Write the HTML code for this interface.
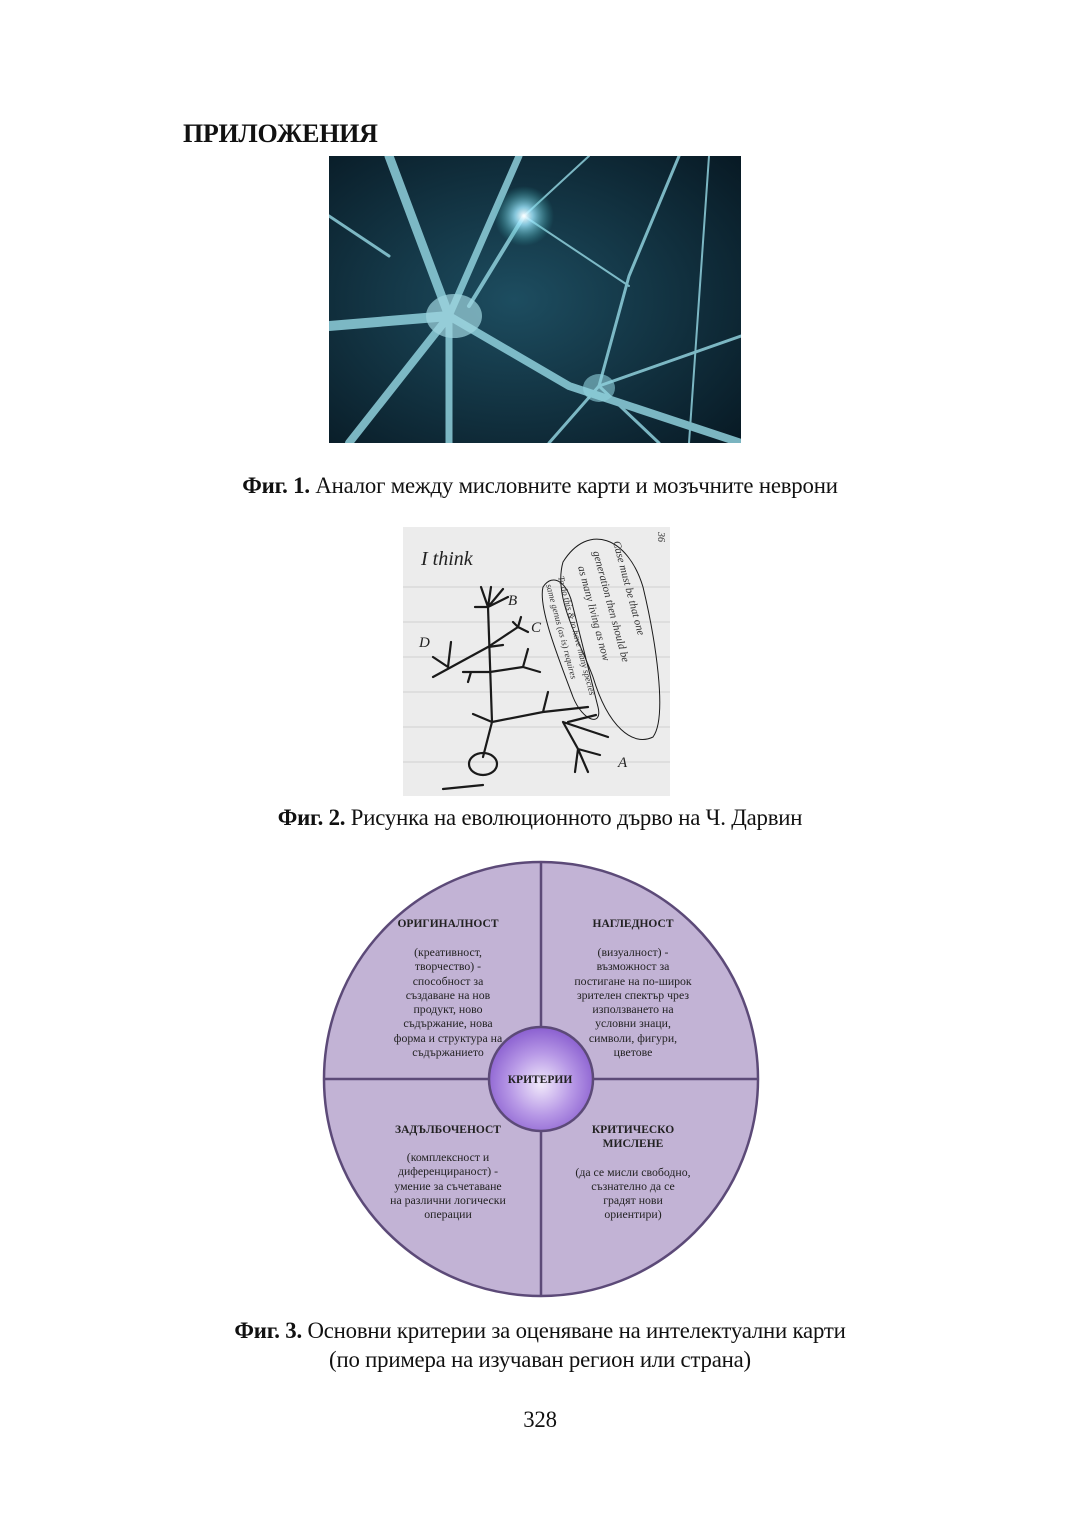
<!DOCTYPE html>
<html><head><meta charset="utf-8"><style>
body{margin:0;background:#fff;}
.page{position:relative;width:1080px;height:1536px;overflow:hidden;font-family:"Liberation Serif",serif;color:#111;}
.t{position:absolute;white-space:nowrap;}
.cap{position:absolute;left:0;width:1080px;text-align:center;font-size:22.8px;white-space:nowrap;letter-spacing:-0.2px;}
</style></head><body><div class="page">
<div class="t" style="left:183px;top:119px;font-size:26px;font-weight:bold;letter-spacing:-0.3px;">ПРИЛОЖЕНИЯ</div>

<svg style="position:absolute;left:329px;top:156px" width="412" height="287" viewBox="0 0 412 287">
<defs>
<radialGradient id="bg" cx="0.45" cy="0.5" r="0.8"><stop offset="0" stop-color="#1d4d60"/><stop offset="1" stop-color="#06151f"/></radialGradient>
<radialGradient id="gl" cx="0.5" cy="0.5" r="0.5"><stop offset="0" stop-color="#ffffff"/><stop offset="0.3" stop-color="#9fe8ff" stop-opacity="0.8"/><stop offset="1" stop-color="#3aa" stop-opacity="0"/></radialGradient>
</defs>
<rect width="412" height="287" fill="url(#bg)"/>
<g stroke="#8fd0dc" fill="none" stroke-linecap="round" opacity="0.85">
<path d="M120 160 L60 0" stroke-width="9"/>
<path d="M120 160 L0 170" stroke-width="10"/>
<path d="M120 160 L20 287" stroke-width="8"/>
<path d="M120 160 L120 287" stroke-width="7"/>
<path d="M120 160 L240 230 L412 287" stroke-width="8"/>
<path d="M120 160 L190 0" stroke-width="7"/>
<path d="M140 150 L195 60" stroke-width="4"/>
<path d="M270 230 L300 120 L350 0" stroke-width="3"/>
<path d="M270 230 L412 180" stroke-width="3"/>
<path d="M270 230 L330 287" stroke-width="3"/>
<path d="M270 230 L220 287" stroke-width="3"/>
<path d="M195 60 L260 0" stroke-width="2"/>
<path d="M195 60 L300 130" stroke-width="2"/>
<path d="M380 0 L360 287" stroke-width="2"/>
<path d="M0 60 L60 100" stroke-width="3"/>
</g>
<ellipse cx="125" cy="160" rx="28" ry="22" fill="#9fd6e0" opacity="0.7"/>
<ellipse cx="270" cy="232" rx="16" ry="14" fill="#8fd0dc" opacity="0.6"/>
<circle cx="195" cy="60" r="30" fill="url(#gl)"/>
</svg>
<div class="cap" style="top:473px;"><b>Фиг. 1.</b> Аналог между мисловните карти и мозъчните неврони</div>

<svg style="position:absolute;left:403px;top:527px" width="267" height="269" viewBox="0 0 267 269">
<rect width="267" height="269" fill="#ececec"/>
<g stroke="#d0d0d0" stroke-width="1"><path d="M0 60 H267 M0 95 H267 M0 130 H267 M0 165 H267 M0 200 H267 M0 235 H267"/></g>
<g stroke="#1a1a1a" fill="none" stroke-width="2.2" stroke-linecap="round">
<text x="18" y="38" font-family="Liberation Serif" font-style="italic" font-size="20" fill="#222" stroke="none">I think</text>
<path d="M89 195 L85 80 M85 80 L72 80 M85 80 L78 60 M85 80 L88 60 M85 80 L100 62 M85 80 L105 70"/>
<path d="M85 120 L30 150 M45 140 L48 115 M45 140 L30 130 M85 120 L100 118 M85 120 L115 100 M115 100 L110 95 M115 100 L118 90 M115 100 L125 105"/>
<path d="M87 145 L120 140 L125 122 M120 140 L137 145 M87 145 L60 145 M68 145 L65 155"/>
<path d="M89 195 L70 187 M89 195 L140 185 L185 180 M140 185 L145 165 M160 195 L175 222 L172 245 M175 222 L185 245 M175 222 L197 228 M160 195 L205 210 M165 195 L193 188"/>
<path d="M89 195 L80 230"/>
<ellipse cx="80" cy="237" rx="14" ry="11"/>
<path d="M40 262 L80 258"/>
<path d="M160 35 C185 -5 225 10 240 60 C252 110 265 190 250 210 C230 220 205 200 190 150 C175 110 150 70 160 35 Z" stroke-width="1"/>
<path d="M140 60 C150 45 165 55 170 80 L195 180 C200 200 180 195 170 170 C155 130 135 80 140 60 Z" stroke-width="1"/>
</g>
<g font-family="Liberation Serif" font-style="italic" fill="#222" font-size="15">
<text x="105" y="78">B</text><text x="128" y="105">C</text><text x="16" y="120">D</text><text x="215" y="240">A</text>
</g>
<g font-family="Liberation Serif" font-style="italic" fill="#333" font-size="11">
<text transform="translate(210,15) rotate(75)">Case must be that one</text>
<text transform="translate(190,25) rotate(75)">generation then should be</text>
<text transform="translate(175,40) rotate(75)">as many living as now</text>
<text transform="translate(155,50) rotate(75)" font-size="9">To do this &amp; to have many species</text>
<text transform="translate(143,58) rotate(75)" font-size="9">same genus (as is) requires</text>
<text transform="translate(255,5) rotate(90)" font-size="10">36</text>
</g>
</svg>
<div class="cap" style="top:805px;"><b>Фиг. 2.</b> Рисунка на еволюционното дърво на Ч. Дарвин</div>

<svg style="position:absolute;left:0;top:0" width="1080" height="1536">
<defs>
<radialGradient id="cg" cx="0.5" cy="0.55" r="0.55"><stop offset="0" stop-color="#f1e9fb"/><stop offset="0.55" stop-color="#b798e6"/><stop offset="1" stop-color="#8a5fd0"/></radialGradient>
</defs>
<circle cx="541" cy="1079" r="217" fill="#c2b3d5" stroke="#5c4a78" stroke-width="2.5"/>
<line x1="541" y1="862" x2="541" y2="1296" stroke="#5c4a78" stroke-width="2.5"/>
<line x1="324" y1="1079" x2="758" y2="1079" stroke="#5c4a78" stroke-width="2.5"/>
<circle cx="541" cy="1079" r="52" fill="url(#cg)" stroke="#5c4a78" stroke-width="2.5"/>
<g font-family="Liberation Serif" font-size="11.8" fill="#222" text-anchor="middle">
<g font-weight="bold" font-size="11.5">
<text x="448" y="927">ОРИГИНАЛНОСТ</text>
<text x="633" y="927">НАГЛЕДНОСТ</text>
<text x="540" y="1083">КРИТЕРИИ</text>
<text x="448" y="1133">ЗАДЪЛБОЧЕНОСТ</text>
<text x="633" y="1133">КРИТИЧЕСКО</text>
<text x="633" y="1147">МИСЛЕНЕ</text>
</g>
<text x="448" y="956">(креативност,</text>
<text x="448" y="970">творчество) -</text>
<text x="448" y="985">способност за</text>
<text x="448" y="999">създаване на нов</text>
<text x="448" y="1013">продукт, ново</text>
<text x="448" y="1027">съдържание, нова</text>
<text x="448" y="1042">форма и структура на</text>
<text x="448" y="1056">съдържанието</text>
<text x="633" y="956">(визуалност) -</text>
<text x="633" y="970">възможност за</text>
<text x="633" y="985">постигане на по-широк</text>
<text x="633" y="999">зрителен спектър чрез</text>
<text x="633" y="1013">използването на</text>
<text x="633" y="1027">условни знаци,</text>
<text x="633" y="1042">символи, фигури,</text>
<text x="633" y="1056">цветове</text>
<text x="448" y="1161">(комплексност и</text>
<text x="448" y="1175">диференцираност) -</text>
<text x="448" y="1190">умение за съчетаване</text>
<text x="448" y="1204">на различни логически</text>
<text x="448" y="1218">операции</text>
<text x="633" y="1176">(да се мисли свободно,</text>
<text x="633" y="1190">съзнателно да се</text>
<text x="633" y="1204">градят нови</text>
<text x="633" y="1218">ориентири)</text>
</g>
</svg>
<div class="cap" style="top:1318px;"><b>Фиг. 3.</b> Основни критерии за оценяване на интелектуални карти</div>
<div class="cap" style="top:1347px;">(по примера на изучаван регион или страна)</div>
<div class="cap" style="top:1407px;">328</div>
</div></body></html>
